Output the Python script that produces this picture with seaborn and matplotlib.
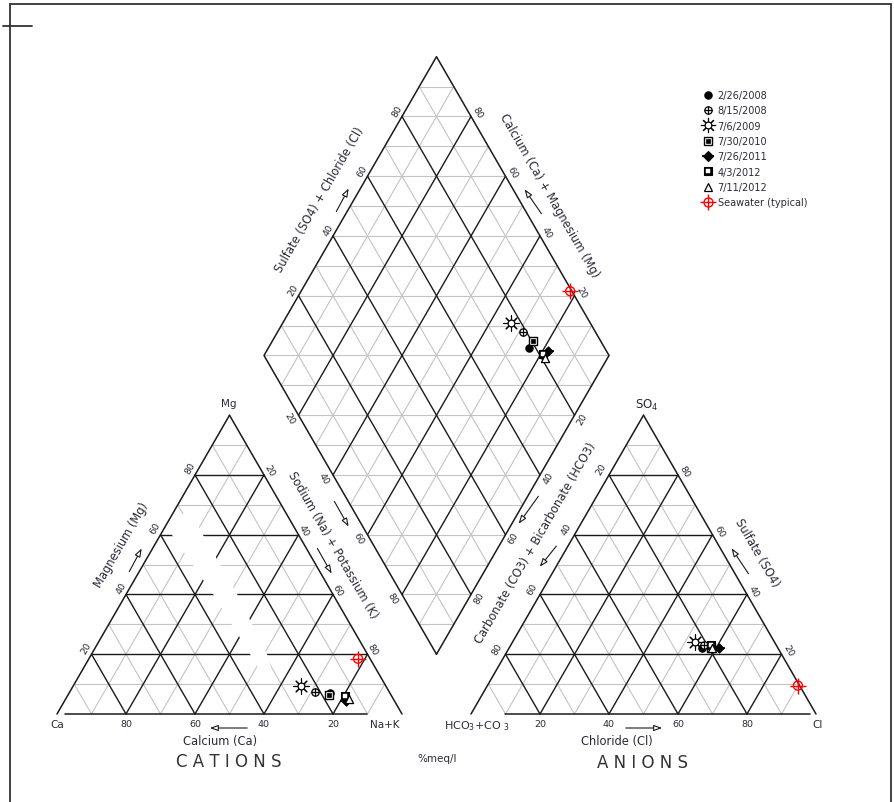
import numpy as np
import pandas as pd
import matplotlib
matplotlib.use("Agg")
import matplotlib.pyplot as plt
import seaborn as sns
from matplotlib.lines import Line2D
from matplotlib.patches import Polygon
from matplotlib.legend_handler import HandlerTuple

# sample dates and %meq/l values
dates = ['2/26/2008', '8/15/2008', '7/6/2009', '7/30/2010', '7/26/2011', '4/3/2012', '7/11/2012']
ca = [17.5, 21.5, 24.5, 18.0, 14.0, 13.5, 13.0]
mg = [7.0, 7.5, 9.5, 6.5, 4.5, 6.0, 5.0]
nak = [75.5, 71.0, 66.0, 75.5, 81.5, 80.5, 82.0]
hco3 = [22.0, 21.0, 23.0, 19.5, 17.0, 19.0, 19.0]
so4 = [22.0, 23.0, 24.0, 22.0, 22.0, 23.0, 22.0]
cl = [56.0, 56.0, 53.0, 58.5, 61.0, 58.0, 59.0]

sea_label = 'Seawater (typical)'
sea_cat = [3.5, 18.5, 78.0]     # Ca, Mg, Na+K
sea_an = [0.5, 9.5, 90.0]       # HCO3, SO4, Cl

ticks = [20, 40, 60, 80]

S3 = np.sqrt(3) / 2
GAP = 0.2
TXT = '#2a2a3a'


def cat_xy(c, m, n):
    t = c + m + n
    return n / t + 0.5 * m / t, S3 * m / t


def an_xy(h, s, c):
    t = h + s + c
    return 1 + GAP + c / t + 0.5 * s / t, S3 * s / t


def dia_xy(cm, sc):
    # cm = (Ca+Mg) fraction, sc = (SO4+Cl) fraction
    return 1 + GAP / 2 + 0.5 * (sc - cm), S3 * GAP + S3 * (sc + cm)


def px(x, y):
    return (x - 57) / 345, (715 - y) / 345


def seg(p, q, dark):
    if dark:
        ax.plot([p[0], q[0]], [p[1], q[1]], color='#1a1a1a', lw=1.0, zorder=2)
    else:
        ax.plot([p[0], q[0]], [p[1], q[1]], color='#c4c4c4', lw=0.8, zorder=1)


sns.set_style("white")
plt.rcParams['font.family'] = ['DejaVu Sans']

fig = plt.figure(figsize=(8.95, 8.03), dpi=100)
ax = fig.add_axes([0, 0, 1, 1])
ax.set_xlim(-57 / 345, (895 - 57) / 345)
ax.set_ylim((715 - 803) / 345, 715 / 345)
ax.axis('off')

# grids
for k in range(1, 10):
    v = k / 10
    dark = k % 2 == 0
    # cation triangle
    seg(cat_xy(1 - v, v, 0), cat_xy(0, v, 1 - v), dark)
    seg(cat_xy(1 - v, 0, v), cat_xy(0, 1 - v, v), dark)
    seg(cat_xy(v, 0, 1 - v), cat_xy(v, 1 - v, 0), dark)
    # anion triangle
    seg(an_xy(1 - v, v, 0), an_xy(0, v, 1 - v), dark)
    seg(an_xy(1 - v, 0, v), an_xy(0, 1 - v, v), dark)
    seg(an_xy(v, 0, 1 - v), an_xy(v, 1 - v, 0), dark)
    # diamond
    seg(dia_xy(0, v), dia_xy(1, v), dark)
    seg(dia_xy(v, 0), dia_xy(v, 1), dark)

for k in range(1, 20):
    s = k / 10
    if s <= 1:
        seg(dia_xy(s, 0), dia_xy(0, s), False)
    else:
        seg(dia_xy(1, s - 1), dia_xy(s - 1, 1), False)

# white smudge over the cation grid (as in the scanned original)
smudge = [(158, 515), (172, 536), (213, 595), (250, 655), (260, 672),
          (272, 672), (267, 655), (237, 595), (203, 536), (192, 515)]
ax.add_patch(Polygon([px(*p) for p in smudge], closed=True, fc='white', ec='none', zorder=2.5))

# outlines
outline = dict(color='#1a1a1a', lw=1.1, zorder=3)
for a, b in [((0, 1, 0), (1, 0, 0)), ((0, 1, 0), (0, 0, 1))]:
    p, q = cat_xy(*a), cat_xy(*b)
    ax.plot([p[0], q[0]], [p[1], q[1]], **outline)
    p, q = an_xy(*a), an_xy(*b)
    ax.plot([p[0], q[0]], [p[1], q[1]], **outline)
ax.plot([0.023, 0.90], [0, 0], **outline)
ax.plot([1 + GAP + 0.098, 1 + GAP + 0.983], [0, 0], **outline)
corners = [dia_xy(0, 0), dia_xy(0, 1), dia_xy(1, 1), dia_xy(1, 0), dia_xy(0, 0)]
ax.plot([c[0] for c in corners], [c[1] for c in corners], **outline)

# tick labels
tk = dict(fontsize=6.8, color=TXT, ha='center', va='center')
for t in ticks:
    v = t / 100

    def put(p, dx, dy, rot):
        ax.text(p[0] + dx / 345, p[1] - dy / 345, str(t), rotation=rot, **tk)

    put(cat_xy(1 - v, v, 0), -5, -7, 60)      # Mg, left edge
    put(cat_xy(0, 1 - v, v), 5, -5, -60)      # Na+K, right edge
    put(cat_xy(v, 0, 1 - v), 0, 10, 0)        # Ca, base
    put(an_xy(1 - v, 0, v), 0, 10, 0)         # Cl, base
    put(an_xy(0, v, 1 - v), 7, -4, -60)       # SO4, right edge
    put(an_xy(v, 1 - v, 0), -8, -6, 60)       # HCO3, left edge
    put(dia_xy(1, v), -5, -6, 60)
    put(dia_xy(v, 1), 7, -4, -60)
    put(dia_xy(1 - v, 0), -9, 3, -60)
    put(dia_xy(0, 1 - v), 8, 3, 60)

# axis titles
tt = dict(fontsize=8.3, color=TXT, ha='center', va='center')
ax.text(*px(121, 545), 'Magnesium (Mg)', rotation=60, **tt)
ax.text(*px(333, 545), 'Sodium (Na) + Potassium (K)', rotation=-60, **tt)
ax.text(*px(220, 742), 'Calcium (Ca)', **tt)
ax.text(*px(320, 200), 'Sulfate (SO4) + Chloride (Cl)', rotation=60, **tt)
ax.text(*px(549, 196), 'Calcium (Ca) + Magnesium (Mg)', rotation=-60, **tt)
ax.text(*px(536, 543), 'Carbonate (CO3) + Bicarbonate (HCO3)', rotation=60, **tt)
ax.text(*px(757, 553), 'Sulfate (SO4)', rotation=-60, **tt)
ax.text(*px(617, 742), 'Chloride (Cl)', **tt)

arrows = [((128, 575), (143, 547)), ((333, 500), (350, 530)), ((316, 547), (333, 577)),
          ((250, 729), (207, 729)), ((335, 215), (350, 187)), ((543, 217), (523, 188)),
          ((540, 495), (517, 527)), ((558, 545), (538, 570)), ((750, 577), (730, 547)),
          ((623, 729), (665, 729))]
for s0, s1 in arrows:
    ax.annotate('', xy=px(*s1), xytext=px(*s0),
                arrowprops=dict(arrowstyle='-|>,head_length=0.5,head_width=0.18',
                                fc='white', ec='#1a1a1a', lw=0.8))

vt = dict(fontsize=7.5, color=TXT, ha='center', va='center')
ax.text(*px(229, 404), 'Mg', **vt)
ax.text(*px(57, 725), 'Ca', **vt)
ax.text(*px(385, 725), 'Na+K', **vt)
ax.text(*px(647, 405), r'SO$_{4}$', fontsize=8.5, color=TXT, ha='center', va='center')
ax.text(*px(477, 726), r'HCO$_{3}$+CO $_{3}$', fontsize=8, color=TXT, ha='center', va='center')
ax.text(*px(818, 725), 'Cl', **vt)
ax.text(*px(437, 759), '%meq/l', **vt)
ax.text(*px(229, 762), 'C A T I O N S', fontsize=12, color='#333333', ha='center', va='center')
ax.text(*px(643, 763), 'A N I O N S', fontsize=12, color='#333333', ha='center', va='center')

# marker layers: (marker, size, face, edge, linewidth)
styles = {
    '2/26/2008': [('o', 28, 'black', 'black', 0.8)],
    '8/15/2008': [('o', 28, 'white', 'black', 0.9), ('+', 34, None, 'black', 0.9)],
    '7/6/2009': [((8, 2, 0), 120, None, 'black', 0.8), ('o', 24, 'white', 'black', 0.9)],
    '7/30/2010': [('s', 34, 'white', 'black', 1.0), ('s', 8, 'black', 'black', 0.5)],
    '7/26/2011': [('D', 22, 'black', 'black', 0.8), ('_', 70, None, 'black', 1.3)],
    '4/3/2012': [('s', 32, 'black', 'black', 0.8), ('s', 5, 'white', 'white', 0.3)],
    '7/11/2012': [('^', 34, 'white', 'black', 0.9)],
    sea_label: [('o', 42, 'none', 'red', 1.0), ('+', 140, None, 'red', 1.0)],
}

rows = []
for i, d in enumerate(dates):
    cm = (ca[i] + mg[i]) / 100
    sc = (so4[i] + cl[i]) / 100
    for p in [cat_xy(ca[i], mg[i], nak[i]), an_xy(hco3[i], so4[i], cl[i]), dia_xy(cm, sc)]:
        rows.append((d, p[0], p[1]))
cm = (sea_cat[0] + sea_cat[1]) / 100
sc = (sea_an[1] + sea_an[2]) / 100
for p in [cat_xy(*sea_cat), an_xy(*sea_an), dia_xy(cm, sc)]:
    rows.append((sea_label, p[0], p[1]))
df = pd.DataFrame(rows, columns=['date', 'x', 'y'])

handles = []
labels = list(dates) + [sea_label]
for lab in labels:
    sub = df[df['date'] == lab]
    parts = []
    for m, s, fc, ec, lw in styles[lab]:
        if fc is None:
            sns.scatterplot(data=sub, x='x', y='y', marker=m, s=s, color=ec,
                            linewidth=lw, ax=ax, zorder=6, legend=False)
            parts.append(Line2D([], [], ls='none', marker=m, markersize=np.sqrt(s),
                                color=ec, mew=lw))
        else:
            sns.scatterplot(data=sub, x='x', y='y', marker=m, s=s, color=fc,
                            edgecolor=ec, linewidth=lw, ax=ax, zorder=6, legend=False)
            parts.append(Line2D([], [], ls='none', marker=m, markersize=np.sqrt(s),
                                markerfacecolor=fc, markeredgecolor=ec, mew=lw))
    handles.append(tuple(parts))

ax.set_xlabel('')
ax.set_ylabel('')
leg = ax.legend(handles, labels, handler_map={tuple: HandlerTuple(ndivide=1, pad=0)},
                loc='upper left', bbox_to_anchor=(703 / 895, 1 - 91 / 803),
                bbox_transform=fig.transFigure, frameon=False, fontsize=7,
                handlelength=1.0, handletextpad=0.5, labelspacing=0.55,
                borderpad=0, borderaxespad=0)
for t in leg.get_texts():
    t.set_color(TXT)

# page frame
W, H = 895, 803
frame = [([10, 10], [5, H]), ([10, 891], [5, 5]), ([891, 891], [5, H]), ([3, 32], [27, 27])]
for xs, ys in frame:
    fig.add_artist(Line2D([x / W for x in xs], [1 - y / H for y in ys],
                          transform=fig.transFigure, color='#333333', lw=1.3))

fig.savefig('out.png', dpi=100)
